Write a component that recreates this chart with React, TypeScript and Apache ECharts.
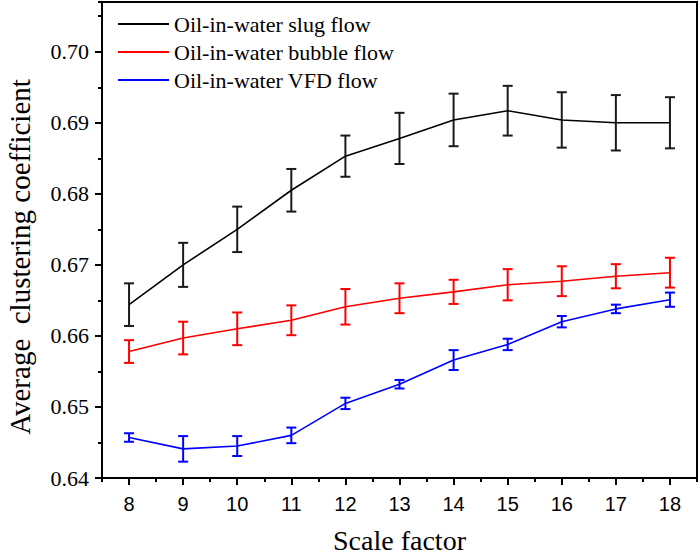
import React, { useEffect, useRef } from "react";
import * as echarts from "echarts";

const categories = ["8", "9", "10", "11", "12", "13", "14", "15", "16", "17", "18"];

const slugMean = [0.6644, 0.67, 0.675, 0.6805, 0.6853, 0.6878, 0.6904, 0.6917, 0.6904, 0.69, 0.69];
const slugErr = [0.003, 0.0031, 0.0032, 0.003, 0.0029, 0.0036, 0.0037, 0.0035, 0.0039, 0.0039, 0.0036];
const bubbleMean = [0.6578, 0.6597, 0.661, 0.6622, 0.6641, 0.6653, 0.6662, 0.6672, 0.6677, 0.6684, 0.6689];
const bubbleErr = [0.0016, 0.0023, 0.0023, 0.0021, 0.0025, 0.0021, 0.0017, 0.0022, 0.0021, 0.0017, 0.0021];
const vfdMean = [0.6457, 0.6441, 0.6445, 0.646, 0.6505, 0.6532, 0.6566, 0.6588, 0.662, 0.6638, 0.6651];
const vfdErr = [0.0006, 0.0018, 0.0014, 0.0011, 0.0008, 0.0006, 0.0014, 0.0008, 0.0008, 0.0006, 0.001];

const seriesNames = ["Oil-in-water slug flow", "Oil-in-water bubble flow", "Oil-in-water VFD flow"];
const seriesColors = ["#000000", "#ff0000", "#0000ff"];

const serif = "Liberation Serif";
const sans = "Liberation Sans";

function errorSeries(name: string, mean: number[], err: number[], color: string) {
  return {
    type: "custom",
    name: name + " error",
    xAxisIndex: 0,
    yAxisIndex: 0,
    z: 3,
    encode: { x: 0, y: [1, 2] },
    data: mean.map((m, i) => [i, m - err[i], m + err[i]]),
    renderItem: (params: any, api: any) => {
      const x = api.value(0);
      const lo = api.coord([x, api.value(1)]);
      const hi = api.coord([x, api.value(2)]);
      const w = 5;
      const style = { stroke: color, lineWidth: 2 };
      return {
        type: "group",
        children: [
          { type: "line", shape: { x1: lo[0], y1: lo[1], x2: hi[0], y2: hi[1] }, style },
          { type: "line", shape: { x1: lo[0] - w, y1: lo[1], x2: lo[0] + w, y2: lo[1] }, style },
          { type: "line", shape: { x1: hi[0] - w, y1: hi[1], x2: hi[0] + w, y2: hi[1] }, style },
        ],
      };
    },
  };
}

function lineSeries(name: string, mean: number[], color: string) {
  return {
    type: "line",
    name,
    xAxisIndex: 0,
    yAxisIndex: 0,
    data: mean,
    symbol: "none",
    showSymbol: false,
    z: 4,
    lineStyle: { color, width: 1.6 },
    itemStyle: { color },
  };
}

export default function App() {
  const ref = useRef<HTMLDivElement>(null);
  useEffect(() => {
    document.body.style.margin = "0";
    if (!ref.current) return;
    const chart = echarts.init(ref.current, undefined, { renderer: "svg" });
    const yMin = 0.64;
    const yMax = 0.707;
    chart.setOption({
      animation: false,
      grid: {
        left: 102,
        right: 3,
        top: 2,
        bottom: 75,
        show: true,
        borderColor: "#000",
        borderWidth: 2,
        backgroundColor: "transparent",
      },
      legend: {
        data: seriesNames.map((n) => ({ name: n, icon: "rect" })),
        orient: "vertical",
        left: 118,
        top: 13,
        padding: 0,
        itemWidth: 51,
        itemHeight: 2,
        itemGap: 6,
        textStyle: { fontFamily: serif, fontSize: 22, color: "#000" },
      },
      graphic: [
        {
          type: "text",
          x: 20,
          y: 257,
          rotation: Math.PI / 2,
          style: {
            text: "Average  clustering coefficient",
            font: `29px ${serif}`,
            fill: "#000",
            textAlign: "center",
            textVerticalAlign: "middle",
          },
        },
      ],
      xAxis: [
        {
          type: "category",
          data: categories,
          position: "bottom",
          boundaryGap: true,
          name: "Scale factor",
          nameLocation: "middle",
          nameGap: 48,
          nameTextStyle: { fontFamily: serif, fontSize: 28, color: "#000" },
          axisLine: { show: true, lineStyle: { color: "#000", width: 2 } },
          axisTick: { show: true, alignWithLabel: true, length: 7, lineStyle: { color: "#000", width: 2 } },
          axisLabel: { fontFamily: sans, fontSize: 20, color: "#000", margin: 16 },
          splitLine: { show: false },
        },
        {
          type: "category",
          data: categories,
          position: "bottom",
          boundaryGap: true,
          axisLine: { show: false },
          axisTick: { show: true, alignWithLabel: false, length: 4, lineStyle: { color: "#000", width: 2 } },
          axisLabel: { show: false },
          splitLine: { show: false },
        },
      ],
      yAxis: [
        {
          type: "value",
          position: "left",
          min: yMin,
          max: yMax,
          interval: 0.01,
          axisLine: { show: true, lineStyle: { color: "#000", width: 2 } },
          axisTick: { show: true, length: 7, lineStyle: { color: "#000", width: 2 } },
          axisLabel: {
            fontFamily: serif,
            fontSize: 22,
            color: "#000",
            margin: 13,
            showMaxLabel: false,
            formatter: (v: number) => v.toFixed(2),
          },
          splitLine: { show: false },
        },
        {
          type: "value",
          position: "left",
          min: yMin,
          max: yMax,
          interval: 0.005,
          axisLine: { show: false },
          axisTick: { show: true, length: 4, lineStyle: { color: "#000", width: 2 } },
          axisLabel: { show: false },
          splitLine: { show: false },
        },
      ],
      series: [
        errorSeries(seriesNames[0], slugMean, slugErr, "#1a1a1a"),
        errorSeries(seriesNames[1], bubbleMean, bubbleErr, seriesColors[1]),
        errorSeries(seriesNames[2], vfdMean, vfdErr, seriesColors[2]),
        lineSeries(seriesNames[0], slugMean, seriesColors[0]),
        lineSeries(seriesNames[1], bubbleMean, seriesColors[1]),
        lineSeries(seriesNames[2], vfdMean, seriesColors[2]),
      ],
    });
    return () => chart.dispose();
  }, []);
  return <div ref={ref} style={{ width: 700, height: 559 }} />;
}
